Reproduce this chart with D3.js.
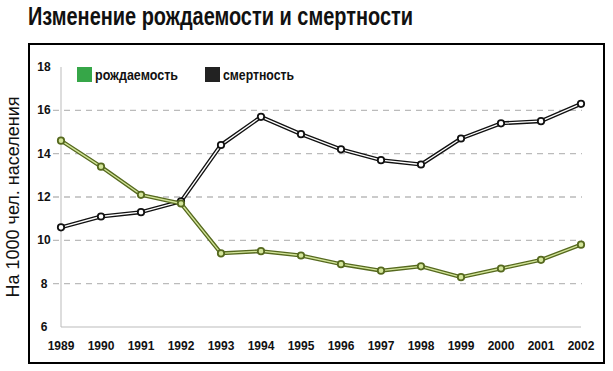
<!DOCTYPE html>
<html>
<head>
<meta charset="utf-8">
<script src="https://cdn.jsdelivr.net/npm/d3@7"></script>
<style>
  body { margin: 0; background: #fff; }
  svg { display: block; }
  .narrow { font-family: "Liberation Sans Narrow", "Arial Narrow", "Liberation Sans", sans-serif; font-weight: bold; }
</style>
</head>
<body>
<script>
// data
var years = [1989, 1990, 1991, 1992, 1993, 1994, 1995, 1996, 1997, 1998, 1999, 2000, 2001, 2002];
var birthRate = [14.6, 13.4, 12.1, 11.7, 9.4, 9.5, 9.3, 8.9, 8.6, 8.8, 8.3, 8.7, 9.1, 9.8];
var deathRate = [10.6, 11.1, 11.3, 11.8, 14.4, 15.7, 14.9, 14.2, 13.7, 13.5, 14.7, 15.4, 15.5, 16.3];
var yTicks = [6, 8, 10, 12, 14, 16, 18];
var gridTicks = [8, 10, 12, 14, 16];

var W = 613, H = 371;

var svg = d3.select("body").append("svg")
    .attr("width", W)
    .attr("height", H);

svg.append("rect").attr("width", W).attr("height", H).attr("fill", "#fff");

// title
svg.append("text")
    .attr("class", "narrow")
    .attr("x", 28)
    .attr("y", 25)
    .attr("textLength", 385)
    .attr("lengthAdjust", "spacingAndGlyphs")
    .style("font-size", "26px")
    .style("fill", "#111")
    .text("Изменение рождаемости и смертности");

// frame
svg.append("rect")
    .attr("x", 29).attr("y", 44)
    .attr("width", 575).attr("height", 319)
    .attr("fill", "none")
    .attr("stroke", "#000")
    .attr("stroke-width", 2);

// scales
var x = d3.scalePoint().domain(years).range([61, 581]);
var y = d3.scaleLinear().domain([6, 18]).range([327, 67]);

// grid
svg.selectAll(".grid")
    .data(gridTicks)
    .enter().append("line")
    .attr("x1", 53).attr("x2", 582)
    .attr("y1", function (d) { return y(d); })
    .attr("y2", function (d) { return y(d); })
    .attr("stroke", "#bbb")
    .attr("stroke-width", 1.3)
    .attr("stroke-dasharray", "6,5");

// axes lines
svg.append("line")
    .attr("x1", x(years[0])).attr("x2", x(years[0]))
    .attr("y1", y(18)).attr("y2", y(6))
    .attr("stroke", "#bbb");
svg.append("line")
    .attr("x1", x(years[0])).attr("x2", x(years[years.length - 1]))
    .attr("y1", y(6)).attr("y2", y(6))
    .attr("stroke", "#bbb");

// y tick labels
svg.selectAll(".ylab")
    .data(yTicks)
    .enter().append("text")
    .attr("class", "narrow")
    .attr("x", 44)
    .attr("y", function (d) { return y(d) + 4; })
    .attr("text-anchor", "middle")
    .style("font-size", "12px")
    .style("fill", "#111")
    .text(function (d) { return d; });

// x tick labels
svg.selectAll(".xlab")
    .data(years)
    .enter().append("text")
    .attr("class", "narrow")
    .attr("x", function (d) { return x(d); })
    .attr("y", 350)
    .attr("text-anchor", "middle")
    .style("font-size", "12px")
    .style("fill", "#111")
    .text(function (d) { return d; });

// y axis title
svg.append("text")
    .attr("transform", "translate(19,197) rotate(-90)")
    .attr("text-anchor", "middle")
    .style("font-family", "'Liberation Sans', Arial, sans-serif")
    .style("font-size", "18px")
    .style("fill", "#111")
    .text("На 1000 чел. населения");

// series
var series = [
    { name: "смертность", values: deathRate, outer: "#111", inner: "#fff" },
    { name: "рождаемость", values: birthRate, outer: "#56691f", inner: "#d3e59a" }
];

var line = d3.line()
    .x(function (d, i) { return x(years[i]); })
    .y(function (d) { return y(d); });

series.forEach(function (s) {
    var g = svg.append("g");
    g.append("path")
        .attr("d", line(s.values))
        .attr("fill", "none")
        .attr("stroke", s.outer)
        .attr("stroke-width", 4)
        .attr("stroke-linejoin", "round");
    g.append("path")
        .attr("d", line(s.values))
        .attr("fill", "none")
        .attr("stroke", s.inner)
        .attr("stroke-width", 1.3)
        .attr("stroke-linejoin", "round");
    g.selectAll("circle")
        .data(s.values)
        .enter().append("circle")
        .attr("cx", function (d, i) { return x(years[i]); })
        .attr("cy", function (d) { return y(d); })
        .attr("r", 3.2)
        .attr("fill", s.inner)
        .attr("stroke", s.outer)
        .attr("stroke-width", 1.8);
});

// legend
var legend = [
    { name: "рождаемость", color: "#36a648", x: 77, w: 83 },
    { name: "смертность", color: "#222", x: 205, w: 71 }
];
legend.forEach(function (l) {
    svg.append("rect")
        .attr("x", l.x).attr("y", 67)
        .attr("width", 15).attr("height", 15)
        .attr("fill", l.color);
    svg.append("text")
        .attr("class", "narrow")
        .attr("x", l.x + 18)
        .attr("y", 80)
        .attr("textLength", l.w)
        .attr("lengthAdjust", "spacingAndGlyphs")
        .style("font-size", "14px")
        .style("fill", "#111")
        .text(l.name);
});
</script>
</body>
</html>
